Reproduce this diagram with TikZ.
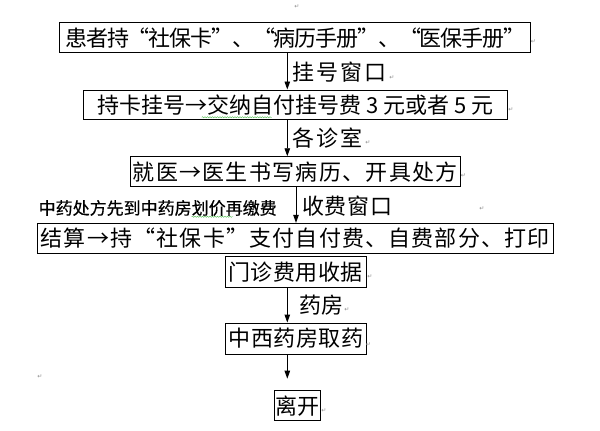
\documentclass[tikz,border=0pt]{standalone}
\usepackage{fontspec}
\setmainfont{Noto Sans CJK SC}
\newfontfamily\notefont[FakeBold=0.5]{Noto Sans CJK SC}
\newfontfamily\pmfont{DejaVu Sans}
\usetikzlibrary{arrows.meta,decorations.pathmorphing}
\newcommand{\ls}[1]{\addfontfeature{LetterSpace=#1}}
\begin{document}
\begin{tikzpicture}[x=1pt,y=-1pt,
 box/.style={draw=black, line width=0.9pt, inner sep=0pt, anchor=center},
 big/.style={font=\fontsize{22}{22}\selectfont},
 lab/.style={inner sep=0pt, anchor=west, font=\fontsize{22}{22}\selectfont},
 note/.style={inner sep=0pt, anchor=west, font=\notefont\fontsize{17}{17}\selectfont},
 arr/.style={line width=0.9pt, -{Triangle[length=8pt,width=5.5pt]}},
 pm/.style={inner sep=0pt, font=\pmfont\fontsize{6}{6}\selectfont, text=black!45},
 squig/.style={draw=green!45!gray, line width=0.4pt, decorate, decoration={snake, amplitude=0.6pt, segment length=2.5pt}}]
\useasboundingbox[fill=white] (0,0) rectangle (600,431);
% boxes
\node[box, big, minimum width=471pt, minimum height=30pt] (b1) at (295.3,37.7) {\ls{-5.2}患者持“社保卡”、“病历手册”、“医保手册”};
\node[box, big, minimum width=424pt, minimum height=29.5pt] (b2) at (295.3,104.7) {持卡挂号→交纳自付挂号费 3 元或者 5 元};
\node[box, big, minimum width=330.7pt, minimum height=30pt] (b3) at (295.3,171.7) {\ls{6}就医→医生书写病历、开具处方};
\node[box, big, minimum width=516pt, minimum height=30pt] (b4) at (295.3,238.3) {\ls{5.4}结算→持“社保卡”支付自付费、自费部分、打印};
\node[box, big, minimum width=141pt, minimum height=30.6pt] (b5) at (295.5,272) {\ls{2.3}门诊费用收据};
\node[box, big, minimum width=141.7pt, minimum height=31pt] (b6) at (295.8,338.5) {\ls{2.3}中西药房取药};
\node[box, big, minimum width=46.7pt, minimum height=30pt] (b7) at (297.3,405.7) {离开};
% arrow columns
\coordinate (ax) at (287.3,0);
\coordinate (ax3) at (296,0);
\coordinate (a5end) at (287.3,378.7);
\draw[arr] (b1.south -| ax) -- (b2.north -| ax);
\draw[arr] (b2.south -| ax) -- (b3.north -| ax);
\draw[arr] (b3.south -| ax3) -- (b4.north -| ax3);
\draw[arr] (b5.south -| ax) -- (b6.north -| ax);
\draw[arr] (b6.south -| ax) -- (a5end);
% labels
\node[lab] (l1) at (292,71.7) {\ls{10}挂号窗口};
\node[lab] (l2) at (292,138) {\ls{9}各诊室};
\node[lab] (l3) at (302,205.7) {\ls{3.4}收费窗口};
\node[lab] (l4) at (299,304.7) {\ls{2}药房};
\node[note] (n1) at (38.5,208) {中药处方先到中药房划价再缴费};
% spell-check underlines
\coordinate (s1a) at (201.7,117.3);
\coordinate (s1b) at (271.7,117.3);
\coordinate (s2a) at (191.7,216.7);
\coordinate (s2b) at (233,216.7);
\draw[squig] (s1a) -- (s1b);
\draw[squig] (s2a) -- (s2b);
% paragraph marks
\node[pm] (p0) at (297,7) {↵};
\node[pm] (p1) at (533.5,42) {↵};
\node[pm] (p2) at (392,78) {↵};
\node[pm] (p3) at (511,110) {↵};
\node[pm] (p4) at (368,143) {↵};
\node[pm] (p5) at (463.5,176) {↵};
\node[pm] (p6) at (482,209) {↵};
\node[pm] (p7) at (370,277) {↵};
\node[pm] (p8) at (347,309.7) {↵};
\node[pm] (p9) at (368.5,344.7) {↵};
\node[pm] (p10) at (40,377) {↵};
\node[pm] (p11) at (324,410.7) {↵};
\end{tikzpicture}
\end{document}
